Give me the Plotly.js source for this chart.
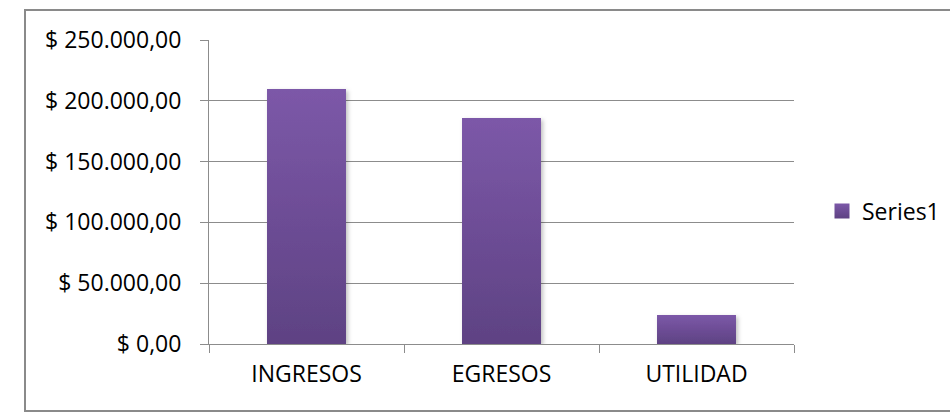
<!DOCTYPE html>
<html>
<head>
<meta charset="utf-8">
<script src="https://cdn.plot.ly/plotly-3.0.1.min.js"></script>
<style>
  html, body { margin: 0; padding: 0; background: #fff; }
  #chart { width: 950px; height: 414px; }
</style>
</head>
<body>
<div id="chart"></div>
<script>
// Category labels and amounts per category
var categories = ['INGRESOS', 'EGRESOS', 'UTILIDAD'];
var amounts = [209800, 185900, 23900];
var seriesName = 'Series1';

var FONT = '"Open Sans", "Liberation Sans", sans-serif';
var FSIZE = 23;
var GRID = '#8c8c8c';

var trace = {
  type: 'bar',
  x: categories,
  y: amounts,
  name: seriesName,
  showlegend: true,
  marker: { color: '#6d4e96', line: { width: 0 } },
  hoverinfo: 'x+y'
};

var L = 209, R = 950 - 794, T = 40, B = 414 - 344;
var pw = 950 - L - R, ph = 414 - T - B;

var layout = {
  width: 950,
  height: 414,
  margin: { l: L, r: R, t: T, b: B, pad: 0, autoexpand: false },
  paper_bgcolor: '#fff',
  plot_bgcolor: '#fff',
  separators: ',.',
  font: { family: FONT, size: FSIZE, color: '#000' },
  bargap: 0.595,
  showlegend: true,
  legend: {
    x: (822 - L) / pw,
    xanchor: 'left',
    y: (344 - 211) / ph,
    yanchor: 'middle',
    font: { family: FONT, size: FSIZE, color: '#000' },
    bgcolor: 'rgba(0,0,0,0)',
    borderwidth: 0
  },
  xaxis: {
    type: 'category',
    showline: true,
    linecolor: GRID,
    linewidth: 1,
    ticks: 'outside',
    tickson: 'boundaries',
    ticklen: 8,
    tickcolor: GRID,
    tickwidth: 1,
    showgrid: false,
    ticklabelstandoff: 9,
    tickfont: { family: FONT, size: FSIZE, color: '#000' },
    fixedrange: true
  },
  yaxis: {
    range: [0, 250000],
    tick0: 0,
    dtick: 50000,
    tickprefix: '$ ',
    tickformat: ',.2f',
    showline: true,
    linecolor: GRID,
    linewidth: 1,
    ticks: 'outside',
    ticklen: 8,
    tickcolor: GRID,
    tickwidth: 1,
    showgrid: true,
    gridcolor: GRID,
    gridwidth: 1,
    zeroline: false,
    ticklabelstandoff: 14,
    tickfont: { family: FONT, size: FSIZE, color: '#000' },
    fixedrange: true
  },
  shapes: [{
    type: 'rect',
    xref: 'paper', yref: 'paper',
    x0: (25 - L) / pw, x1: (960 - L) / pw,
    y0: (344 - 411) / ph, y1: (344 - 10) / ph,
    line: { color: '#8a8a8a', width: 2 },
    fillcolor: 'rgba(0,0,0,0)',
    layer: 'below'
  }]
};

// Vertical shading on the bars (lighter top, darker bottom) plus a soft shadow
function shadeBars(gd) {
  var svg = gd.querySelector('.main-svg');
  var ns = 'http://www.w3.org/2000/svg';
  var defs = svg.querySelector('defs') || svg.insertBefore(document.createElementNS(ns, 'defs'), svg.firstChild);
  var grad = document.createElementNS(ns, 'linearGradient');
  grad.setAttribute('id', 'barShade');
  grad.setAttribute('x1', '0'); grad.setAttribute('y1', '0');
  grad.setAttribute('x2', '0'); grad.setAttribute('y2', '1');
  [['0', '#7c58a8'], ['1', '#5e4283']].forEach(function (s) {
    var st = document.createElementNS(ns, 'stop');
    st.setAttribute('offset', s[0]);
    st.setAttribute('stop-color', s[1]);
    grad.appendChild(st);
  });
  defs.appendChild(grad);
  var filt = document.createElementNS(ns, 'filter');
  filt.setAttribute('id', 'barShadow');
  filt.setAttribute('x', '-20%'); filt.setAttribute('y', '-20%');
  filt.setAttribute('width', '140%'); filt.setAttribute('height', '140%');
  var ds = document.createElementNS(ns, 'feDropShadow');
  ds.setAttribute('dx', '2'); ds.setAttribute('dy', '2');
  ds.setAttribute('stdDeviation', '2');
  ds.setAttribute('flood-color', '#000');
  ds.setAttribute('flood-opacity', '0.25');
  filt.appendChild(ds);
  defs.appendChild(filt);
  gd.querySelectorAll('.barlayer .point path').forEach(function (p) {
    p.style.fill = 'url(#barShade)';
    p.setAttribute('filter', 'url(#barShadow)');
  });
  // larger legend swatch
  gd.querySelectorAll('.legend .legendpoints path').forEach(function (p) {
    p.setAttribute('d', 'M7.5,7.5H-7.5V-7.5H7.5Z');
    p.style.fill = 'url(#barShade)';
  });
}

Plotly.newPlot('chart', [trace], layout, { displayModeBar: false, staticPlot: true })
  .then(shadeBars);
</script>
</body>
</html>
